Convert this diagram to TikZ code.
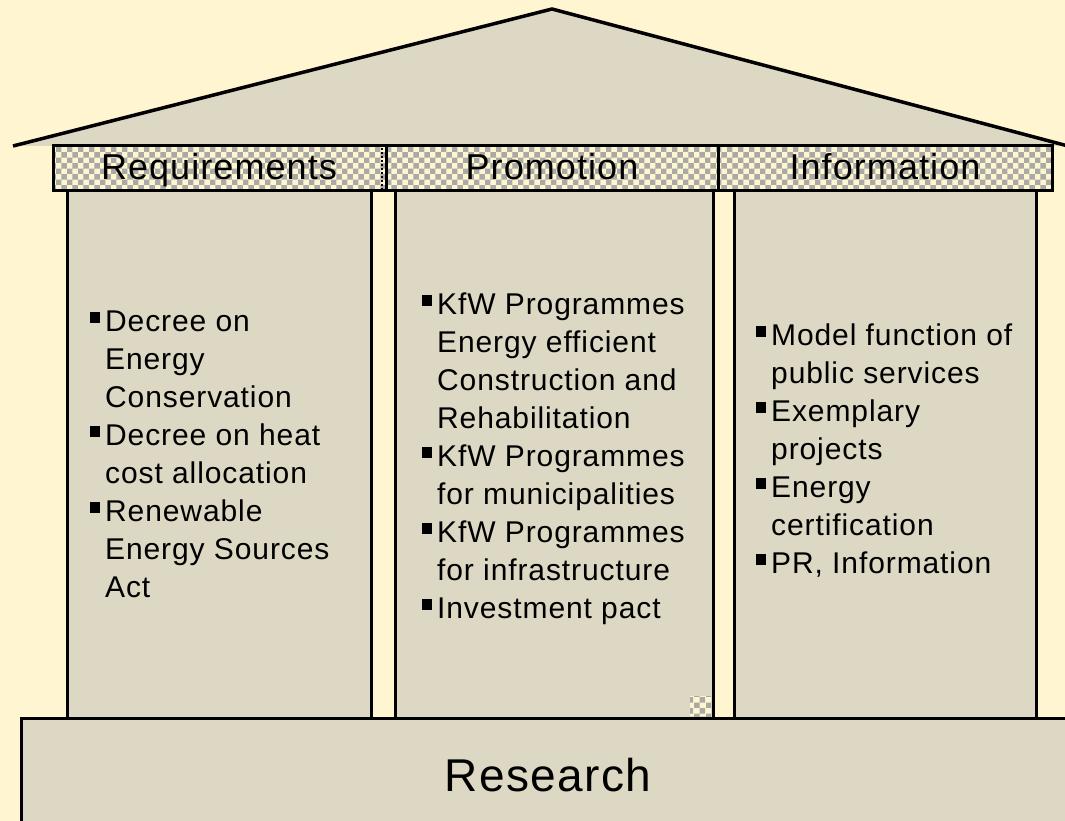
\documentclass[tikz,border=0pt]{standalone}
\usepackage{fontspec}
\setmainfont{Liberation Sans}[LetterSpace=3]
\usepackage{tikz}
\usetikzlibrary{patterns}

\definecolor{paper}{HTML}{FFF5D0}
\definecolor{stone}{HTML}{DCD8C4}
\definecolor{checkgray}{HTML}{A9A9A6}

\tikzset{
  outline/.style={draw=black, line width=3pt},
  stonefill/.style={fill=stone},
  beam/.style={preaction={fill=paper}, pattern=checkerboard, pattern color=checkgray},
  headlabel/.style={anchor=base, font=\fontsize{36}{40}\selectfont},
  itemtext/.style={anchor=north west, inner sep=0pt, align=left, font=\fontsize{30}{38}\selectfont},
}
\newcommand{\sqbullet}{\leavevmode\llap{\rule[8pt]{10pt}{11pt}\hspace{5pt}}}
\newcommand{\firstline}{\rule{0pt}{28pt}}

\begin{document}
\begin{tikzpicture}[x=1pt, y=-1pt]
\useasboundingbox (0,0) rectangle (1065,821);
\clip (0,0) rectangle (1065,821);
\fill[paper] (0,0) rectangle (1065,821);

% Roof
\fill[stonefill] (13,146) -- (552,9) -- (1068,146) -- cycle;
\draw[line width=3.5pt, line join=miter] (13,146) -- (552,9) -- (1068,146);

% Pillars
\draw[outline, stonefill] (67,191) rectangle (371,718);
\draw[outline, stonefill] (395,191) rectangle (713,718);
\draw[outline, stonefill] (734,191) rectangle (1036,718);
\fill[beam] (690,696) rectangle (711,716);

% Foundation
\draw[outline, stonefill] (21,718) rectangle (1090,850);
\node[font=\fontsize{46}{50}\selectfont, anchor=base] (research) at (548,791) {Research};

% Beam with the three headings
\draw[outline, beam] (53,146) rectangle (1052,191);
\draw[dash pattern=on 2pt off 2pt, line width=2pt] (382,148) -- (382,189);
\draw[outline] (386,146) -- (386,191);
\draw[outline] (718,146) -- (718,191);
\node[headlabel] (requirements) at (219,180) {Requirements};
\node[headlabel] (promotion) at (552,180) {Promotion};
\node[headlabel] (information) at (885,180) {Information};

% Bullet lists
\node[itemtext] (reqlist) at (105,303) {\firstline\sqbullet Decree on\\ Energy\\ Conservation\\
  \sqbullet Decree on heat\\ cost allocation\\
  \sqbullet Renewable\\ Energy Sources\\ Act};
\node[itemtext] (prolist) at (437,286) {\firstline\sqbullet KfW Programmes\\ Energy efficient\\ Construction and\\ Rehabilitation\\
  \sqbullet KfW Programmes\\ for municipalities\\
  \sqbullet KfW Programmes\\ for infrastructure\\
  \sqbullet Investment pact};
\node[itemtext] (inflist) at (771,317) {\firstline\sqbullet Model function of\\ public services\\
  \sqbullet Exemplary\\ projects\\
  \sqbullet Energy\\ certification\\
  \sqbullet PR, Information};

\end{tikzpicture}
\end{document}
